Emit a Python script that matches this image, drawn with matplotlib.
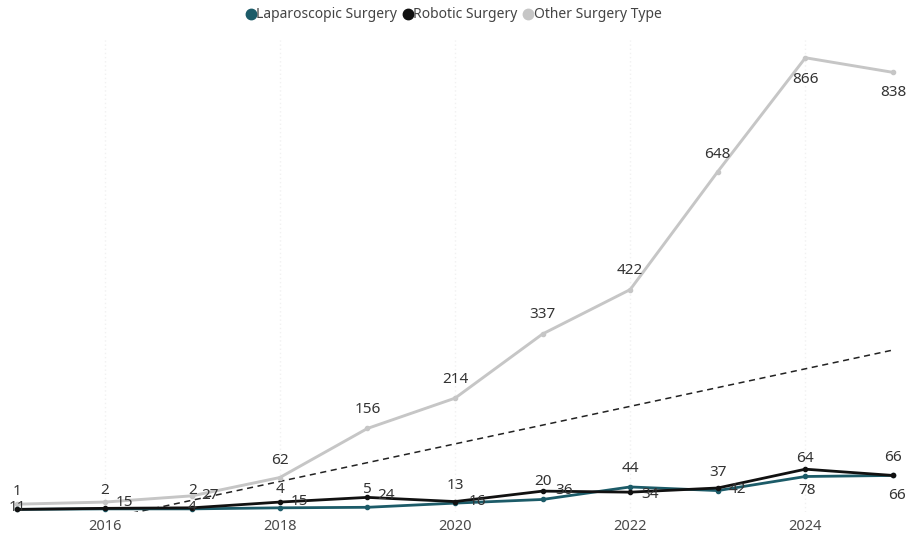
import matplotlib
matplotlib.use('Agg')
import matplotlib.pyplot as plt
from matplotlib.lines import Line2D
import numpy as np

plt.rcParams['font.family'] = ['Noto Sans', 'DejaVu Sans']

# data
years = [2015, 2016, 2017, 2018, 2019, 2020, 2021, 2022, 2023, 2024, 2025]
laparoscopic = [1, 2, 2, 4, 5, 13, 20, 44, 37, 64, 66]
robotic = [1, 3, 4, 15, 24, 16, 36, 34, 42, 78, 66]
other = [11, 15, 27, 62, 156, 214, 337, 422, 648, 866, 838]
tick_years = [2016, 2018, 2020, 2022, 2024]
series_names = ['Laparoscopic Surgery', 'Robotic Surgery', 'Other Surgery Type']

# colours
c_lap = '#1c5b68'
c_rob = '#111111'
c_oth = '#c6c6c6'
c_txt = '#333333'

# label offsets in pixels (None = label hidden, as in the original)
off_lap = [(0, 18)] * 11
off_rob = [None, None, (0, 0), (20, 1), (19, 2), (22, 0), (22, 1), (20, -2), (20, -2), (2, -21), (4, -20)]
off_oth = [(0, -3), (20, 0), (18, 0), (0, 17), (0, 19), (0, 19), (0, 19), (0, 19), (0, 17), (0, -22), (0, -20)]

fig = plt.figure(figsize=(9.09, 5.37), dpi=100)
ax = fig.add_axes([17 / 909, 25 / 537, 876 / 909, 472 / 537])

ax.plot(years, other, color=c_oth, lw=2.1, marker='o', ms=3, clip_on=False, zorder=3)
ax.plot(years, laparoscopic, color=c_lap, lw=2.0, marker='o', ms=3, clip_on=False, zorder=4)
ax.plot(years, robotic, color=c_rob, lw=2.0, marker='o', ms=3, clip_on=False, zorder=5)

# linear trend over all points
all_x = np.array(years * 3, dtype=float)
all_y = np.array(laparoscopic + robotic + other, dtype=float)
slope, icpt = np.polyfit(all_x, all_y, 1)
tx = np.array([years[0], years[-1] + 0.2])
ax.plot(tx, slope * tx + icpt, color='#222222', lw=1.1, ls=(0, (4, 3)), zorder=2)

for vals, offs in [(other, off_oth), (laparoscopic, off_lap), (robotic, off_rob)]:
    for x, v, o in zip(years, vals, offs):
        if o is None:
            continue
        ax.annotate(str(v), (x, v), xytext=o, textcoords='offset pixels',
                    ha='center', va='center', fontsize=11, color=c_txt, zorder=6)

ax.set_xlim(2015, 2025)
ax.set_ylim(-4, 900)
ax.set_yticks([])
ax.set_xticks(tick_years)
ax.set_xticklabels([str(t) for t in tick_years], fontsize=10.5, color='#4a4a4a')
ax.tick_params(axis='x', length=0, pad=5)
for t in tick_years:
    ax.axvline(t, color='#f1f1f1', lw=1, ls=(0, (1, 2)), zorder=0)
for s in ax.spines.values():
    s.set_visible(False)

handles = [Line2D([], [], ls='none', marker='o', ms=7.5, color=c) for c in (c_lap, c_rob, c_oth)]
fig.legend(handles, series_names, loc='center', bbox_to_anchor=(0.5, 1 - 15 / 537),
           ncol=3, frameon=False, fontsize=10, handlelength=0.5, handletextpad=0.15,
           columnspacing=0.5, labelcolor='#444444')

fig.savefig('out.png', dpi=100)
